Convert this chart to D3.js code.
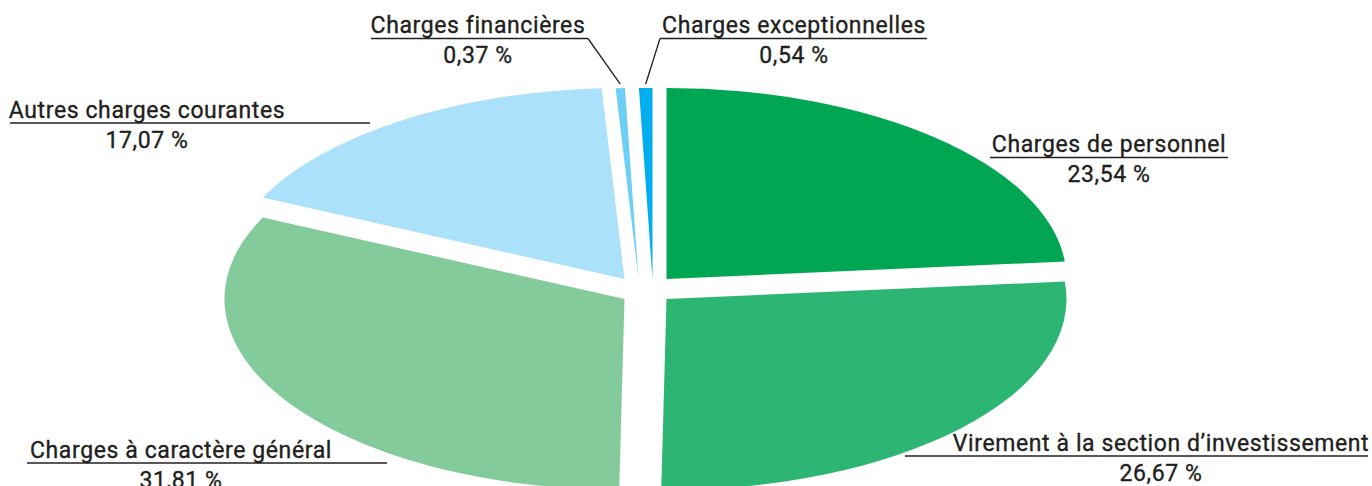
<!DOCTYPE html>
<html>
<head>
<meta charset="utf-8">
<script src="https://cdn.jsdelivr.net/npm/d3@7"></script>
<style>
  html, body { margin: 0; padding: 0; background: #fff; }
  svg { display: block; }
  text { font-family: Roboto, "DejaVu Sans", sans-serif; fill: #231f20; stroke: #231f20; stroke-width: 0.35px; letter-spacing: 0.6px; }
</style>
</head>
<body>
<div id="chart"></div>
<script>
const categories = [
    "Charges de personnel",
    "Virement à la section d\u2019investissement",
    "Charges à caractère général",
    "Autres charges courantes",
    "Charges financières",
    "Charges exceptionnelles"
];
const values = [23.54, 26.67, 31.81, 17.07, 0.37, 0.54];
const valueLabels = ["23,54 %", "26,67 %", "31,81 %", "17,07 %", "0,37 %", "0,54 %"];
const colors = ["#00a651", "#2db673", "#84cb9c", "#abe1fa", "#6dcff6", "#00aeef"];

const width = 1372;
const height = 486;
const rx = 400, ry = 191;
const cx = 645.5, cy = 289;
const spreadX = 21, spreadY = 10;
const fontSize = 23;

// where each label sits (text centre, baseline, underline span)
const labelLayout = [
    {x: 1109, y: 152, from: 990, to: 1228},
    {x: 1161, y: 450.5, from: 905, to: 1368},
    {x: 181, y: 457.5, from: 27, to: 387},
    {x: 147, y: 117.5, from: 10, to: 370},
    {x: 478, y: 33, from: 371, to: 588, leader: 'right'},
    {x: 794, y: 33, from: 660, to: 927, leader: 'left'}
];

const svg = d3.select('#chart').append('svg')
    .attr('width', width)
    .attr('height', height);

const pie = d3.pie().sort(null).value(d => d)
    .startAngle(0).endAngle(2 * Math.PI);
const arcs = pie(values);
const arc = d3.arc().innerRadius(0).outerRadius(rx);

// slices in the top half and bottom half are spread apart evenly
arcs.forEach(d => {
    d.mid = (d.startAngle + d.endAngle) / 2;
    d.top = Math.cos(d.mid) > 0;
});
[true, false].forEach(half => {
    const group = arcs.filter(d => d.top === half)
        .sort((a, b) => Math.sin(a.mid) - Math.sin(b.mid));
    group.forEach((d, i) => {
        d.ox = group.length > 1 ? -spreadX + 2 * spreadX * i / (group.length - 1) : 0;
        d.oy = half ? -spreadY : spreadY;
    });
});

const pieG = svg.append('g');
pieG.selectAll('path')
    .data(arcs)
    .enter()
    .append('path')
    .attr('d', arc)
    .attr('transform', d => `translate(${cx + d.ox},${cy + d.oy}) scale(1,${ry / rx})`)
    .attr('fill', (d, i) => colors[i]);

// labels
const labelG = svg.append('g');
labelLayout.forEach((l, i) => {
    const g = labelG.append('g');
    g.append('text')
        .attr('x', l.x)
        .attr('y', l.y)
        .attr('text-anchor', 'middle')
        .attr('font-size', fontSize)
        .text(categories[i]);
    g.append('text')
        .attr('x', l.x)
        .attr('y', l.y + 30)
        .attr('text-anchor', 'middle')
        .attr('font-size', fontSize)
        .text(valueLabels[i]);
    const uy = l.y + 5.5;
    g.append('line')
        .attr('x1', l.from).attr('x2', l.to)
        .attr('y1', uy).attr('y2', uy)
        .attr('stroke', '#231f20')
        .attr('stroke-width', 1.3);
    if (l.leader) {
        const d = arcs[i];
        const tx = cx + d.ox + Math.sin(d.mid) * rx;
        const ty = cy + d.oy - Math.cos(d.mid) * ry - 4;
        const sx = l.leader === 'right' ? l.to : l.from;
        g.append('line')
            .attr('x1', sx).attr('y1', uy)
            .attr('x2', tx).attr('y2', ty)
            .attr('stroke', '#231f20')
            .attr('stroke-width', 1.3);
    }
});
</script>
</body>
</html>
